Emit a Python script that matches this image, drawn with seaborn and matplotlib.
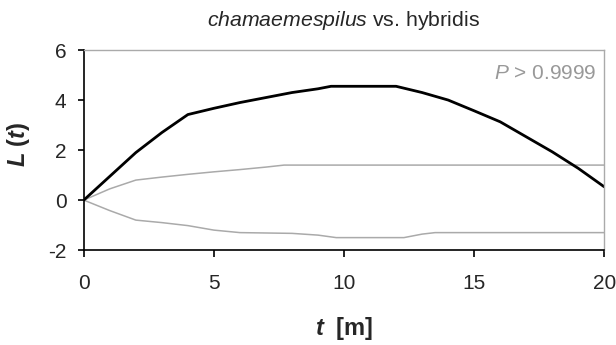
import matplotlib
matplotlib.use('Agg')
import matplotlib.pyplot as plt
import seaborn as sns
import pandas as pd

# L(t) observado y envolventes de confianza
t_obs = [0, 1, 2, 3, 4, 5, 6, 7, 8, 9, 9.5, 10, 11, 12, 13, 14, 15, 16, 17, 18, 19, 20]
l_obs = [0, 0.95, 1.9, 2.7, 3.42, 3.67, 3.9, 4.1, 4.3, 4.45, 4.55, 4.55, 4.55, 4.55, 4.3, 4.0, 3.57, 3.13, 2.53, 1.93, 1.27, 0.53]

t_sup = [0, 1, 2, 3, 4, 5, 6, 7, 7.7, 10, 15, 20]
l_sup = [0, 0.45, 0.8, 0.92, 1.03, 1.13, 1.22, 1.32, 1.4, 1.4, 1.4, 1.4]

t_inf = [0, 1, 2, 3, 4, 5, 6, 8, 9, 9.7, 12.3, 13, 13.5, 15, 20]
l_inf = [0, -0.42, -0.8, -0.9, -1.02, -1.2, -1.3, -1.33, -1.4, -1.5, -1.5, -1.36, -1.3, -1.3, -1.3]

sns.set_style('white')
plt.rcParams['font.family'] = ['Liberation Sans', 'DejaVu Sans']
plt.rcParams['axes.unicode_minus'] = False
plt.rcParams['mathtext.fontset'] = 'custom'
plt.rcParams['mathtext.rm'] = 'Liberation Sans'
plt.rcParams['mathtext.it'] = 'Liberation Sans:italic'
plt.rcParams['mathtext.bf'] = 'Liberation Sans:bold'
plt.rcParams['mathtext.bfit'] = 'Liberation Sans:bold:italic'

df_obs = pd.DataFrame({'t': t_obs, 'L': l_obs})
df_sup = pd.DataFrame({'t': t_sup, 'L': l_sup})
df_inf = pd.DataFrame({'t': t_inf, 'L': l_inf})

fig = plt.figure(figsize=(6.16, 3.45), dpi=100)
ax = fig.add_axes([0.136, 0.275, 0.845, 0.58])

sns.lineplot(x='t', y='L', data=df_sup, color='#aaaaaa', linewidth=1.1, ax=ax)
sns.lineplot(x='t', y='L', data=df_inf, color='#aaaaaa', linewidth=1.1, ax=ax)
sns.lineplot(x='t', y='L', data=df_obs, color='black', linewidth=2.0, ax=ax)

ax.set_xlim(0, 20)
ax.set_ylim(-2, 6)
ax.set_xticks([0, 5, 10, 15, 20])
ax.set_yticks([-2, 0, 2, 4, 6])

for lado in ['top', 'right']:
    ax.spines[lado].set_color('#aaaaaa')
    ax.spines[lado].set_linewidth(1.0)
for lado in ['left', 'bottom']:
    ax.spines[lado].set_color('black')
    ax.spines[lado].set_linewidth(1.2)

ax.tick_params(axis='x', direction='out', length=5, width=1.2, pad=12, labelsize=15, color='black')
ax.tick_params(axis='y', direction='out', length=4.5, width=1.2, pad=8, labelsize=15, color='black')
ax.tick_params(bottom=True, left=True)

# Título centrado sobre el área del gráfico
fig.text(0.558, 0.942, r'$\mathit{chamaemespilus}$ vs. hybridis', fontsize=15.3, ha='center', va='center')
ax.set_xlabel(r'$\mathbfit{t}$  $\mathbf{[m]}$', fontsize=17, labelpad=16)
ax.set_ylabel(r'$\mathbfit{L}$ $\mathbf{(}\mathbfit{t}\mathbf{)}$', fontsize=17)
ax.yaxis.set_label_coords(-0.1, 0.53)

ax.text(0.985, 0.885, r'$\mathit{P}$ > 0.9999', transform=ax.transAxes, ha='right', va='center',
        color='#999999', fontsize=15)

plt.savefig('out.png', dpi=100)
